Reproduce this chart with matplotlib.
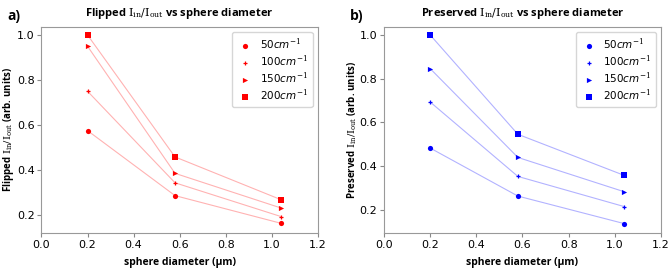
import matplotlib
matplotlib.use("Agg")
import matplotlib.pyplot as plt

plt.rcParams["mathtext.fontset"] = "custom"
plt.rcParams["mathtext.rm"] = "DejaVu Serif"
plt.rcParams["mathtext.it"] = "DejaVu Sans:italic"
plt.rcParams["mathtext.bf"] = "DejaVu Sans:bold"

diam = [0.2, 0.58, 1.04]
labels = ["50$cm^{-1}$", "100$cm^{-1}$", "150$cm^{-1}$", "200$cm^{-1}$"]
markers = ["o", "+", ">", "s"]
flipped = [
    [0.575, 0.286, 0.163],
    [0.750, 0.343, 0.193],
    [0.950, 0.385, 0.231],
    [1.000, 0.458, 0.268],
]
preserved = [
    [0.482, 0.262, 0.136],
    [0.693, 0.352, 0.214],
    [0.846, 0.439, 0.282],
    [1.000, 0.545, 0.357],
]

fig = plt.figure(figsize=(6.69, 2.69), dpi=100)
ax1 = fig.add_axes([0.062, 0.134, 0.413, 0.766])
ax2 = fig.add_axes([0.574, 0.134, 0.414, 0.766])

lab_font = dict(family="Open Sans", weight="bold")

def draw(ax, data, color, title, ylab, ylim, panel):
    for vals, lab, m in zip(data, labels, markers):
        ax.plot(diam, vals, color=color, alpha=0.3, lw=0.8, zorder=1)
        ms = 14 if m != "+" else 10
        ax.scatter(diam, vals, marker=m, color=color, s=ms, label=lab, zorder=2,
                   linewidths=0.9 if m == "+" else 0)
    ax.set_xlim(0, 1.2)
    ax.set_ylim(*ylim)
    ax.set_xticks([0.0, 0.2, 0.4, 0.6, 0.8, 1.0, 1.2])
    ax.set_yticks([0.2, 0.4, 0.6, 0.8, 1.0])
    ax.tick_params(labelsize=8, length=3, color="#888888", pad=2)
    for s in ax.spines.values():
        s.set_color("#999999")
    ax.set_xlabel("sphere diameter (µm)", **lab_font, fontsize=7.5, labelpad=5)
    ax.set_ylabel(ylab, **lab_font, fontsize=7, labelpad=0.5)
    ax.set_title(title, **lab_font, fontsize=8, pad=8)
    ax.legend(loc="upper right", fontsize=7.5, handletextpad=0.6, borderpad=0.45,
              labelspacing=0.15, handlelength=1.6)
    ax.text(-0.1, 1.055, panel, transform=ax.transAxes, family="Open Sans",
            weight="bold", fontsize=10, ha="center", va="center")

draw(ax1, flipped, "red", r"Flipped $\mathrm{I_{in}/I_{out}}$ vs sphere diameter",
     r"Flipped $\mathrm{I_{in}/I_{out}}$ (arb. units)", (0.12, 1.036), "a)")
draw(ax2, preserved, "blue", r"Preserved $\mathrm{I_{in}/I_{out}}$ vs sphere diameter",
     r"Preserved $\mathrm{I_{in}/I_{out}}$ (arb. units)", (0.093, 1.037), "b)")

fig.savefig("out.png", dpi=100)
